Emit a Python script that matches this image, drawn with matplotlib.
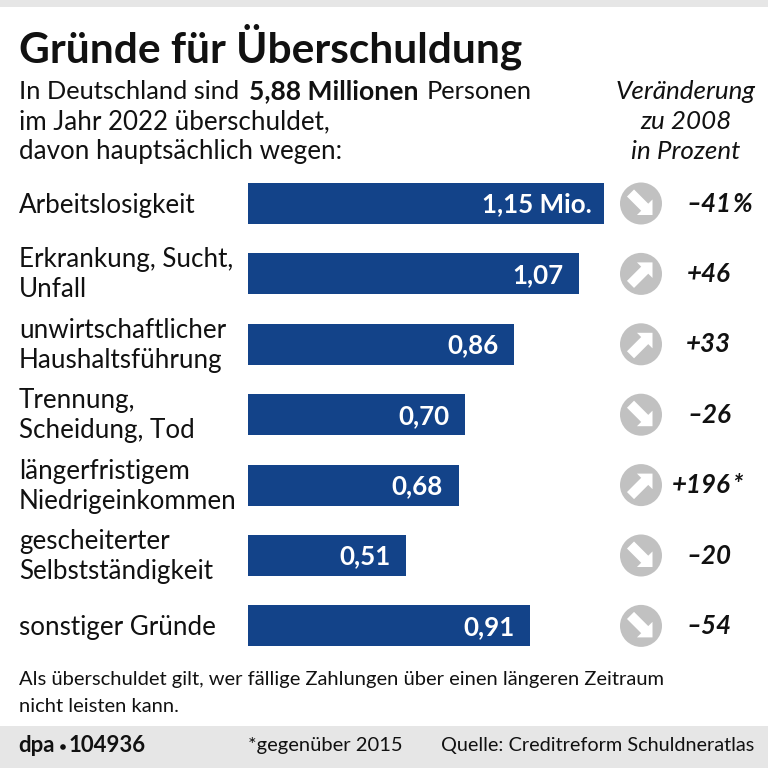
import matplotlib
matplotlib.use("Agg")
import matplotlib.pyplot as plt
from matplotlib.patches import Circle, FancyArrow, Rectangle

plt.rcParams['font.family'] = ['Lato', 'DejaVu Sans']

## Data ##
labels = ["Arbeitslosigkeit", "Erkrankung, Sucht,\nUnfall", "unwirtschaftlicher\nHaushaltsführung",
          "Trennung,\nScheidung, Tod", "längerfristigem\nNiedrigeinkommen",
          "gescheiterter\nSelbstständigkeit", "sonstiger Gründe"]
values = [1.15, 1.07, 0.86, 0.70, 0.68, 0.51, 0.91]
value_labels = ["1,15 Mio.", "1,07", "0,86", "0,70", "0,68", "0,51", "0,91"]
changes = [-41, 46, 33, -26, 196, -20, -54]
change_labels = ["–41", "+46", "+33", "–26", "+196", "–20", "–54"]
change_suffix = ["%", "", "", "", "*", "", ""]

BAR_COLOR = "#134389"
GREY = "#e6e6e6"
CIRCLE = "#c1c1c1"
INK = "#111111"
ROW_TOP = 203.5      # pixel centre of first row
ROW_STEP = 70.4
BODY = 18.7

fig = plt.figure(figsize=(7.68, 7.68), dpi=100, facecolor="white")

# overlay in pixel coordinates, y downwards
bg = fig.add_axes([0, 0, 1, 1])
bg.set_xlim(0, 768)
bg.set_ylim(768, 0)
bg.axis("off")

bg.add_patch(Rectangle((0, 0), 768, 7, color=GREY, lw=0))
bg.add_patch(Rectangle((0, 726), 768, 42, color=GREY, lw=0))

# bars
left, right = 248, 604
top = ROW_TOP - ROW_STEP / 2
bottom = ROW_TOP + 6.5 * ROW_STEP
ax = fig.add_axes([left / 768, 1 - bottom / 768, (right - left) / 768, (bottom - top) / 768])
ax.patch.set_alpha(0)
ax.barh(range(len(values)), values, height=0.585, color=BAR_COLOR)
ax.set_xlim(0, 1.15)
ax.set_ylim(6.5, -0.5)
ax.axis("off")
for i, (v, lab) in enumerate(zip(values, value_labels)):
    off = -12 if "Mio" in lab else -15.5
    ax.annotate(lab, (v, i), xytext=(off, -1), textcoords="offset pixels", ha="right", va="center",
                color="white", fontsize=18.6, fontweight="bold")

# title + intro
bg.text(19, 47, "Gründe für Überschuldung", fontsize=30.5, fontweight="bold", color=INK, va="center")
bg.text(19, 91.5, "In Deutschland sind", fontsize=18.3, color=INK, va="center")
bg.text(249, 91.5, "5,88 Millionen", fontsize=19.1, fontweight="bold", color=INK, va="center")
bg.text(427, 91.5, "Personen", fontsize=18.3, color=INK, va="center")
bg.text(19, 121.5, "im Jahr 2022 überschuldet,", fontsize=BODY, color=INK, va="center")
bg.text(19, 151.5, "davon hauptsächlich wegen:", fontsize=BODY, color=INK, va="center")

for y, s in zip([91.5, 121.5, 151.5], ["Veränderung", "zu 2008", "in Prozent"]):
    bg.text(685.5, y, s, fontsize=BODY, style="italic", color=INK, ha="center", va="center")

# rows
for i, (lab, ch) in enumerate(zip(labels, changes)):
    y = ROW_TOP + i * ROW_STEP
    parts = lab.split("\n")
    if len(parts) == 1:
        bg.text(19, y + 1.5, parts[0], fontsize=BODY, color=INK, va="center")
    else:
        bg.text(19, y - 14, parts[0], fontsize=BODY, color=INK, va="center")
        bg.text(19, y + 16, parts[1], fontsize=BODY, color=INK, va="center")

    cx, cy = 641, y
    bg.add_patch(Circle((cx, cy), 21, color=CIRCLE, lw=0))
    # arrow points up-right for a rise, down-right for a fall
    sgn = -1 if ch > 0 else 1
    bg.add_patch(FancyArrow(cx - 10.5, cy - 10.5 * sgn, 22, 22 * sgn, width=10, head_width=22, head_length=11,
                            length_includes_head=True, color="white", lw=0))

    bg.text(731, y, change_labels[i], fontsize=18.6, style="italic", fontweight="bold",
            color=INK, ha="right", va="center")
    if change_suffix[i]:
        bg.text(732, y, change_suffix[i], fontsize=18.6, style="italic", fontweight="bold",
                color=INK, ha="left", va="center")

# footnote
bg.text(19, 680, "Als überschuldet gilt, wer fällige Zahlungen über einen längeren Zeitraum",
        fontsize=14.5, color=INK, va="center")
bg.text(19, 706, "nicht leisten kann.", fontsize=14.5, color=INK, va="center")

# footer
bg.text(18, 746, "dpa", fontsize=16, fontweight="bold", color=INK, va="center")
bg.add_patch(Circle((63, 747), 2.8, color=INK, lw=0))
bg.text(69, 746, "104936", fontsize=16, fontweight="bold", color=INK, va="center")
bg.text(248, 746, "*gegenüber 2015", fontsize=14.5, color=INK, va="center")
bg.text(754, 746, "Quelle: Creditreform Schuldneratlas", fontsize=14.3, color=INK, ha="right", va="center")

fig.savefig("out.png", dpi=100)
